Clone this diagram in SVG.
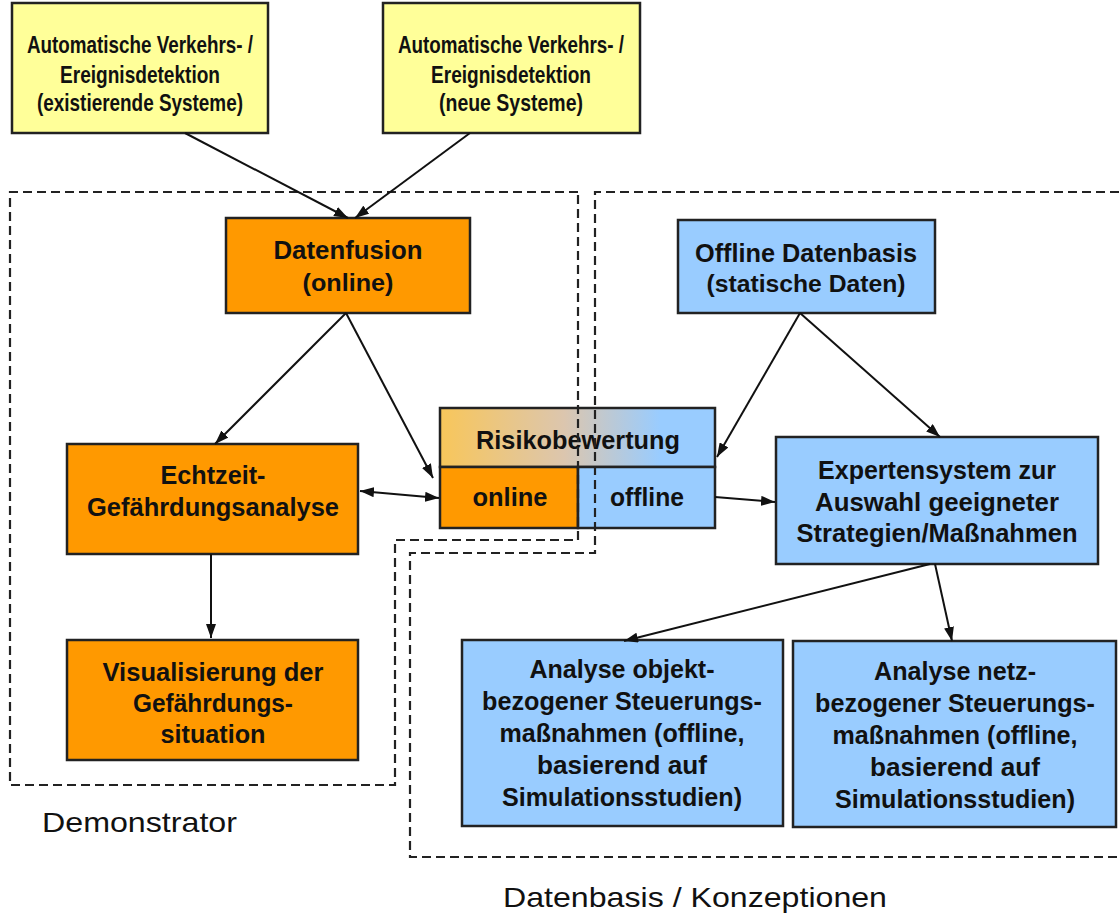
<svg xmlns="http://www.w3.org/2000/svg" width="1119" height="918" viewBox="0 0 1119 918">
<style>
.box{stroke:#222;stroke-width:2.5}
.y{fill:#FFFF99}.o{fill:#FF9900}.b{fill:#99CCFF}
.t{font-family:"Liberation Sans",Arial,sans-serif;font-weight:bold;fill:#111;text-anchor:middle}
.s{font-size:24px}
.m{font-size:25px}
.n{font-size:26px}
.lab{font-family:"Liberation Sans",Arial,sans-serif;fill:#111;font-size:28px}
.dash{fill:none;stroke:#222;stroke-width:2.2;stroke-dasharray:9 5}
.c{stroke:#111;stroke-width:2;fill:none}
</style>
<defs>
<marker id="ah" viewBox="0 0 14 10" refX="14" refY="5" markerWidth="14" markerHeight="10" markerUnits="userSpaceOnUse" orient="auto">
<path d="M0,0 L14,5 L0,10 z" fill="#111"/>
</marker>
<marker id="as" viewBox="0 0 14 10" refX="0" refY="5" markerWidth="14" markerHeight="10" markerUnits="userSpaceOnUse" orient="auto">
<path d="M14,0 L0,5 L14,10 z" fill="#111"/>
</marker>
<linearGradient id="g" x1="0" y1="0" x2="1" y2="0">
<stop offset="0" stop-color="#F8C65A"/>
<stop offset="0.45" stop-color="#DCC6AE"/>
<stop offset="0.8" stop-color="#99CCFF"/>
<stop offset="1" stop-color="#99CCFF"/>
</linearGradient>
</defs>

<g id="n-auto1">
<rect class="box y" x="12" y="3" width="256" height="130"/>
<text class="t s" x="140" y="53" textLength="226" lengthAdjust="spacingAndGlyphs">Automatische Verkehrs- /</text>
<text class="t s" x="140" y="83" textLength="160" lengthAdjust="spacingAndGlyphs">Ereignisdetektion</text>
<text class="t s" x="140" y="111" textLength="206" lengthAdjust="spacingAndGlyphs">(existierende Systeme)</text>
</g>
<g id="n-auto2">
<rect class="box y" x="383" y="3" width="257" height="130"/>
<text class="t s" x="511" y="53" textLength="226" lengthAdjust="spacingAndGlyphs">Automatische Verkehrs- /</text>
<text class="t s" x="511" y="83" textLength="160" lengthAdjust="spacingAndGlyphs">Ereignisdetektion</text>
<text class="t s" x="511" y="111" textLength="144" lengthAdjust="spacingAndGlyphs">(neue Systeme)</text>
</g>
<g id="n-fusion">
<rect class="box o" x="226" y="218" width="244" height="95"/>
<text class="t m" x="348" y="259" textLength="149" lengthAdjust="spacingAndGlyphs">Datenfusion</text>
<text class="t m" x="348" y="291" textLength="91" lengthAdjust="spacingAndGlyphs" style="font-size:23px">(online)</text>
</g>
<g id="n-offline">
<rect class="box b" x="678" y="220" width="257" height="93"/>
<text class="t m" x="806" y="262" textLength="222" lengthAdjust="spacingAndGlyphs">Offline Datenbasis</text>
<text class="t m" x="806" y="292" textLength="199" lengthAdjust="spacingAndGlyphs" style="font-size:23px">(statische Daten)</text>
</g>
<g id="n-risiko">
<rect class="box" fill="url(#g)" x="440" y="408" width="275" height="59"/>
<rect class="box o" x="440" y="467" width="138" height="61"/>
<rect class="box b" x="578" y="467" width="137" height="61"/>
<text class="t m" x="578" y="449" textLength="204" lengthAdjust="spacingAndGlyphs">Risikobewertung</text>
<text class="t m" x="510" y="506" textLength="75" lengthAdjust="spacingAndGlyphs">online</text>
<text class="t m" x="647" y="506" textLength="74" lengthAdjust="spacingAndGlyphs">offline</text>
</g>
<g id="n-echtzeit">
<rect class="box o" x="67" y="444" width="291" height="110"/>
<text class="t m" x="213" y="484" textLength="105" lengthAdjust="spacingAndGlyphs">Echtzeit-</text>
<text class="t m" x="213" y="516" textLength="252" lengthAdjust="spacingAndGlyphs">Gefährdungsanalyse</text>
</g>
<g id="n-visual">
<rect class="box o" x="67" y="640" width="291" height="120"/>
<text class="t m" x="213" y="681" textLength="221" lengthAdjust="spacingAndGlyphs">Visualisierung der</text>
<text class="t m" x="213" y="712" textLength="160" lengthAdjust="spacingAndGlyphs">Gefährdungs-</text>
<text class="t m" x="213" y="743" textLength="105" lengthAdjust="spacingAndGlyphs">situation</text>
</g>
<g id="n-experten">
<rect class="box b" x="776" y="437" width="322" height="127"/>
<text class="t m" x="937" y="479" textLength="238" lengthAdjust="spacingAndGlyphs">Expertensystem zur</text>
<text class="t m" x="937" y="511" textLength="244" lengthAdjust="spacingAndGlyphs">Auswahl geeigneter</text>
<text class="t m" x="937" y="542" textLength="281" lengthAdjust="spacingAndGlyphs">Strategien/Maßnahmen</text>
</g>
<g id="n-objekt">
<rect class="box b" x="462" y="640" width="321" height="186"/>
<text class="t n" x="622" y="678" textLength="185" lengthAdjust="spacingAndGlyphs">Analyse objekt-</text>
<text class="t n" x="622" y="710" textLength="280" lengthAdjust="spacingAndGlyphs">bezogener Steuerungs-</text>
<text class="t n" x="622" y="742" textLength="245" lengthAdjust="spacingAndGlyphs">maßnahmen (offline,</text>
<text class="t n" x="622" y="774" textLength="170" lengthAdjust="spacingAndGlyphs">basierend auf</text>
<text class="t n" x="622" y="806" textLength="240" lengthAdjust="spacingAndGlyphs">Simulationsstudien)</text>
</g>
<g id="n-netz">
<rect class="box b" x="793" y="641" width="323" height="186"/>
<text class="t n" x="955" y="680" textLength="162" lengthAdjust="spacingAndGlyphs">Analyse netz-</text>
<text class="t n" x="955" y="712" textLength="280" lengthAdjust="spacingAndGlyphs">bezogener Steuerungs-</text>
<text class="t n" x="955" y="744" textLength="245" lengthAdjust="spacingAndGlyphs">maßnahmen (offline,</text>
<text class="t n" x="955" y="776" textLength="170" lengthAdjust="spacingAndGlyphs">basierend auf</text>
<text class="t n" x="955" y="808" textLength="240" lengthAdjust="spacingAndGlyphs">Simulationsstudien)</text>
</g>

<g id="regions">
<path class="dash" d="M578,192 H10 V785 H395 V540 H578 Z"/>
<path class="dash" d="M1119,192 H595 V553 H410 V857 H1119"/>
</g>
<g id="labels">
<text class="lab" x="42" y="832" textLength="195" lengthAdjust="spacingAndGlyphs">Demonstrator</text>
<text class="lab" x="503" y="907" textLength="384" lengthAdjust="spacingAndGlyphs">Datenbasis / Konzeptionen</text>
</g>

<g id="connectors">
<line class="c" x1="185" y1="133" x2="348" y2="218" marker-end="url(#ah)"/>
<line class="c" x1="470" y1="133" x2="355" y2="218" marker-end="url(#ah)"/>
<line class="c" x1="346" y1="313" x2="215" y2="444" marker-end="url(#ah)"/>
<line class="c" x1="346" y1="313" x2="433" y2="478" marker-end="url(#ah)"/>
<line class="c" x1="360" y1="491" x2="439" y2="498" marker-start="url(#as)" marker-end="url(#ah)"/>
<line class="c" x1="211" y1="554" x2="211" y2="638" marker-end="url(#ah)"/>
<line class="c" x1="800" y1="313" x2="717" y2="457" marker-end="url(#ah)"/>
<line class="c" x1="800" y1="313" x2="940" y2="437" marker-end="url(#ah)"/>
<line class="c" x1="715" y1="497" x2="775" y2="502" marker-end="url(#ah)"/>
<line class="c" x1="930" y1="564" x2="624" y2="641" marker-end="url(#ah)"/>
<line class="c" x1="935" y1="564" x2="952" y2="641" marker-end="url(#ah)"/>
</g>
</svg>
